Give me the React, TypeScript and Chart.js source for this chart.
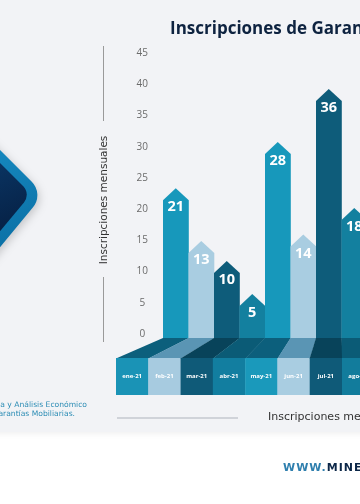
import React, { useEffect, useRef } from "react";
import { Chart, registerables } from "chart.js";

Chart.register(...registerables);

// ---- data ----
const months = ["ene-21", "feb-21", "mar-21", "abr-21", "may-21", "jun-21", "jul-21", "ago-21"];
const inscripciones = [21, 13, 10, 5, 28, 14, 36, 18];
const yMin = 0;
const yMax = 45;
const yStep = 5;

const chartTitle = "Inscripciones de Garantías Mobiliarias";
const yTitle = "Inscripciones mensuales";
const xTitle = "Inscripciones mensuales";
const sourceLines = ["Fuente: Unidad de Estadística y Análisis Económico", "Registro de Garantías Mobiliarias."];
const footerPrefix = "WWW.";
const footerMain = "MINECO.GOB.GT";

// ---- styles ----
const barColors = ["#1798bb", "#a9cde1", "#0e5c7a", "#13809f", "#1798bb", "#a9cde1", "#0e5c7a", "#13809f"];
const boxColors = ["#1a93b6", "#a7cbe0", "#0f5a78", "#127ea0", "#1a99bb", "#a9cde1", "#0f5a78", "#127c9c"];
const shadeColors = ["#0c5f7c", "#5a95b4", "#08435a", "#0b5b76", "#0c5f7c", "#5a95b4", "#08435a", "#0b5b76"];
const SANS = "'Open Sans', 'DejaVu Sans', sans-serif";
const WIDE = "'DejaVu Sans', sans-serif";

function drawDiamond(ctx: CanvasRenderingContext2D) {
  ctx.save();
  const g = ctx.createLinearGradient(0, 140, 40, 250);
  g.addColorStop(0, "#1689c0");
  g.addColorStop(1, "#0a6ea3");
  ctx.fillStyle = g;
  ctx.shadowColor = "rgba(0,0,0,0.18)";
  ctx.shadowBlur = 8;
  ctx.shadowOffsetX = 2;
  ctx.shadowOffsetY = 3;
  ctx.beginPath();
  ctx.moveTo(-60, 90);
  ctx.arcTo(44, 194, -60, 320, 19);
  ctx.lineTo(-60, 320);
  ctx.closePath();
  ctx.fill();
  ctx.shadowColor = "transparent";
  const g2 = ctx.createLinearGradient(0, 160, 30, 230);
  g2.addColorStop(0, "#0a3462");
  g2.addColorStop(1, "#061f42");
  ctx.fillStyle = g2;
  ctx.beginPath();
  ctx.moveTo(-60, 103);
  ctx.arcTo(31, 194, -60, 303, 12);
  ctx.lineTo(-60, 303);
  ctx.closePath();
  ctx.fill();
  ctx.restore();
}

const deco = {
  id: "deco",
  beforeDraw(chart: any) {
    const ctx: CanvasRenderingContext2D = chart.ctx;
    const W = chart.width;
    const H = chart.height;
    ctx.save();
    ctx.fillStyle = "#ffffff";
    ctx.fillRect(0, 0, W, H);
    ctx.shadowColor = "rgba(0,0,0,0.06)";
    ctx.shadowBlur = 6;
    ctx.shadowOffsetY = 2;
    ctx.fillStyle = "#f2f3f6";
    ctx.fillRect(-10, -10, W + 20, 442);
    ctx.restore();
    drawDiamond(ctx);
  },
  beforeDatasetDraw() {
    return false;
  },
  afterDatasetsDraw(chart: any) {
    const ctx: CanvasRenderingContext2D = chart.ctx;
    const meta = chart.getDatasetMeta(0);
    const ys = chart.scales.y;
    const ca = chart.chartArea;
    const n = chart.data.labels.length;
    const step = (ca.right - ca.left) / n;
    const bandTop = ys.getPixelForValue(0) + 4;
    const bandBottom = bandTop + 20;
    const boxBottom = bandBottom + 37;
    const boxW = step * 1.266;
    const box0 = ca.left - 47;
    const tipH = 12;
    ctx.save();
    meta.data.forEach((el: any, i: number) => {
      const { x, y, width } = el.getProps(["x", "y", "width"], true);
      const l = x - width / 2;
      const r = x + width / 2;
      ctx.fillStyle = barColors[i];
      ctx.beginPath();
      ctx.moveTo(x, y);
      ctx.lineTo(r + 0.3, y + tipH);
      ctx.lineTo(r + 0.3, bandTop + 0.5);
      ctx.lineTo(l, bandTop + 0.5);
      ctx.lineTo(l, y + tipH);
      ctx.closePath();
      ctx.fill();
      const bl = box0 + i * boxW;
      const br = bl + boxW;
      ctx.fillStyle = shadeColors[i];
      ctx.beginPath();
      ctx.moveTo(l, bandTop);
      ctx.lineTo(r + 0.3, bandTop);
      ctx.lineTo(br + 0.3, bandBottom + 0.5);
      ctx.lineTo(bl, bandBottom + 0.5);
      ctx.closePath();
      ctx.fill();
      ctx.fillStyle = boxColors[i];
      ctx.fillRect(bl, bandBottom, boxW + 0.3, boxBottom - bandBottom);
    });
    ctx.fillStyle = "#ffffff";
    ctx.textAlign = "center";
    ctx.textBaseline = "middle";
    ctx.font = `bold 14.5px ${SANS}`;
    meta.data.forEach((el: any, i: number) => {
      const { x, y } = el.getProps(["x", "y"], true);
      ctx.fillText(String(chart.data.datasets[0].data[i]), x, y + 19);
    });
    ctx.font = `bold 6px ${SANS}`;
    chart.data.labels.forEach((lab: string, i: number) => {
      const cx = box0 + i * boxW + boxW / 2;
      ctx.fillText(lab, cx, (bandBottom + boxBottom) / 2);
    });
    ctx.restore();
  },
  afterDraw(chart: any) {
    const ctx: CanvasRenderingContext2D = chart.ctx;
    ctx.save();
    ctx.fillStyle = "#0e2340";
    ctx.font = `bold 17px ${SANS}`;
    ctx.textAlign = "left";
    ctx.textBaseline = "alphabetic";
    ctx.fillText(chartTitle, 170, 34);
    ctx.strokeStyle = "#9a9a9a";
    ctx.lineWidth = 1;
    ctx.beginPath();
    ctx.moveTo(103.5, 46);
    ctx.lineTo(103.5, 121);
    ctx.moveTo(103.5, 277);
    ctx.lineTo(103.5, 342);
    ctx.stroke();
    ctx.save();
    ctx.translate(104.5, 200);
    ctx.rotate(-Math.PI / 2);
    ctx.fillStyle = "#333333";
    ctx.font = `10.5px ${WIDE}`;
    ctx.textAlign = "center";
    ctx.textBaseline = "middle";
    ctx.fillText(yTitle, 0, 0);
    ctx.restore();
    ctx.strokeStyle = "#d0d3d9";
    ctx.lineWidth = 2;
    ctx.beginPath();
    ctx.moveTo(117, 418);
    ctx.lineTo(238, 418);
    ctx.stroke();
    ctx.fillStyle = "#333333";
    ctx.font = `11px ${WIDE}`;
    ctx.textAlign = "left";
    ctx.textBaseline = "alphabetic";
    ctx.fillText(xTitle, 268, 420);
    ctx.fillStyle = "#2d8db5";
    ctx.font = `7.6px ${WIDE}`;
    ctx.textAlign = "right";
    ctx.textBaseline = "middle";
    ctx.fillText(sourceLines[0], 87, 405);
    ctx.fillText(sourceLines[1], 75, 414);
    ctx.textAlign = "left";
    ctx.font = `bold 11px ${WIDE}`;
    (ctx as any).letterSpacing = "1px";
    ctx.fillStyle = "#2f7fae";
    ctx.fillText(footerPrefix, 283, 468);
    const w = ctx.measureText(footerPrefix).width;
    ctx.fillStyle = "#0c2748";
    ctx.fillText(footerMain, 283 + w, 468);
    ctx.restore();
  },
};

export default function App() {
  const ref = useRef<HTMLCanvasElement>(null);
  useEffect(() => {
    const canvas = ref.current!;
    const chart = new Chart(canvas, {
      type: "bar",
      data: {
        labels: months,
        datasets: [
          {
            data: inscripciones,
            backgroundColor: barColors,
            yAxisID: "yb",
            barPercentage: 1,
            categoryPercentage: 1,
          },
        ],
      },
      options: {
        animation: false,
        responsive: false,
        devicePixelRatio: 1,
        layout: { padding: { left: 0, right: 3, top: 53, bottom: 170 } },
        plugins: {
          legend: { display: false },
          tooltip: { enabled: false },
          title: { display: false },
        },
        scales: {
          x: { display: false },
          y: {
            position: "left",
            min: yMin,
            max: yMax,
            ticks: {
              stepSize: yStep,
              color: "#6b6b6b",
              font: { family: SANS, size: 10 },
              padding: 15,
              crossAlign: "center",
            },
            grid: { display: false, drawTicks: false },
            border: { display: false },
            afterFit: (s: any) => {
              s.width = 163;
            },
          },
          yb: { display: false, position: "left", min: -1.06, max: 41.45 },
        },
      } as any,
      plugins: [deco],
    });
    return () => chart.destroy();
  }, []);
  return (
    <div style={{ position: "fixed", left: 0, top: 0, width: 360, height: 504, overflow: "hidden", background: "#fff" }}>
      <canvas ref={ref} width={370} height={504} style={{ display: "block", width: 370, height: 504 }} />
    </div>
  );
}
